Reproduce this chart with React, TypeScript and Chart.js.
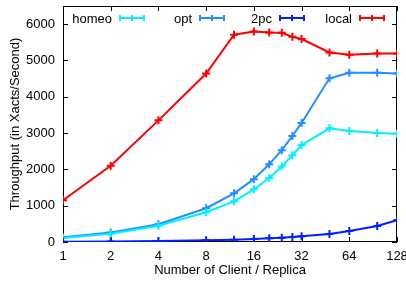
import React, { useEffect, useRef } from 'react';
import { Chart, registerables } from 'chart.js';

Chart.register(...registerables);

const clients = [1, 2, 4, 8, 12, 16, 20, 24, 28, 32, 48, 64, 96, 128];
const homeo = [110, 230, 450, 820, 1120, 1450, 1760, 2080, 2390, 2670, 3130, 3060, 3000, 2980];
const opt = [130, 260, 490, 930, 1340, 1730, 2140, 2530, 2920, 3280, 4510, 4660, 4660, 4640];
const twoPc = [10, 15, 25, 45, 60, 80, 100, 120, 140, 160, 220, 300, 440, 600];
const local = [1150, 2100, 3350, 4640, 5710, 5800, 5770, 5760, 5650, 5590, 5220, 5160, 5190, 5190];
const xTicks = [1, 2, 4, 8, 16, 32, 64, 128];
const yTicks = [0, 1000, 2000, 3000, 4000, 5000, 6000];
const seriesNames = ['homeo', 'opt', '2pc', 'local'];
const seriesColors = ['#00f0ff', '#2090ff', '#0020ff', '#ff0000'];

const FONT = '"Liberation Sans", Arial, Helvetica, sans-serif';

const framePlugin = {
  id: 'frame',
  beforeDatasetsDraw(chart: any) {
    const { ctx, chartArea: a, scales } = chart;
    ctx.save();
    ctx.strokeStyle = '#000';
    ctx.lineWidth = 1;
    ctx.strokeRect(a.left + 0.5, a.top + 0.5, a.right - a.left - 1, a.bottom - a.top - 1);
    ctx.beginPath();
    const L = 5;
    xTicks.forEach((v) => {
      const x = Math.round(scales.x.getPixelForValue(v)) + 0.5;
      ctx.moveTo(x, a.bottom);
      ctx.lineTo(x, a.bottom - L);
      ctx.moveTo(x, a.top);
      ctx.lineTo(x, a.top + L);
    });
    yTicks.forEach((v) => {
      const y = Math.round(scales.y.getPixelForValue(v)) + 0.5;
      ctx.moveTo(a.left, y);
      ctx.lineTo(a.left + L, y);
      ctx.moveTo(a.right, y);
      ctx.lineTo(a.right - L, y);
    });
    ctx.stroke();
    ctx.restore();
  },
  afterDatasetsDraw(chart: any) {
    const { ctx, chartArea: a } = chart;
    ctx.save();
    ctx.font = `13px ${FONT}`;
    ctx.textAlign = 'right';
    ctx.textBaseline = 'middle';
    const y = a.top + 12;
    seriesNames.forEach((name, i) => {
      const tx = a.left + 49 + i * 80;
      ctx.fillStyle = '#000';
      ctx.fillText(name, tx, y + 1);
      const x0 = tx + 8;
      const x1 = tx + 32;
      const xm = (x0 + x1) / 2;
      ctx.strokeStyle = seriesColors[i];
      ctx.lineWidth = 2;
      ctx.beginPath();
      ctx.moveTo(x0, y);
      ctx.lineTo(x1, y);
      ctx.moveTo(x0, y - 3);
      ctx.lineTo(x0, y + 3);
      ctx.moveTo(x1, y - 3);
      ctx.lineTo(x1, y + 3);
      ctx.moveTo(xm, y - 3);
      ctx.lineTo(xm, y + 3);
      ctx.stroke();
    });
    ctx.restore();
  },
};

export default function App() {
  const ref = useRef<HTMLCanvasElement>(null);
  useEffect(() => {
    if (!ref.current) return;
    const mk = (label: string, data: number[], color: string) => ({
      label,
      data: clients.map((c, i) => ({ x: c, y: data[i] })),
      borderColor: color,
      backgroundColor: color,
      borderWidth: 2,
      pointStyle: 'cross' as const,
      pointRadius: 4,
      pointBorderWidth: 2,
      tension: 0,
    });
    const chart = new Chart(ref.current, {
      type: 'line',
      data: {
        datasets: [
          mk('2pc', twoPc, seriesColors[2]),
          mk('homeo', homeo, seriesColors[0]),
          mk('opt', opt, seriesColors[1]),
          mk('local', local, seriesColors[3]),
        ],
      },
      options: {
        animation: false,
        responsive: false,
        devicePixelRatio: 1,
        layout: { padding: { top: 4, right: 9, left: 0, bottom: 0 } },
        plugins: { legend: { display: false }, tooltip: { enabled: false } },
        scales: {
          x: {
            type: 'logarithmic',
            min: 1,
            max: 128,
            grid: { display: false, drawTicks: false },
            border: { display: false },
            afterBuildTicks: (s: any) => {
              s.ticks = xTicks.map((v) => ({ value: v }));
            },
            afterFit: (s: any) => {
              s.height = 40;
              s.paddingLeft = 0;
              s.paddingRight = 0;
            },
            ticks: {
              color: '#000',
              font: { family: FONT, size: 13 },
              padding: 7,
              maxRotation: 0,
              autoSkip: false,
              callback: (v: any) => String(v),
            },
            title: {
              display: true,
              text: 'Number of Client / Replica',
              color: '#000',
              font: { family: FONT, size: 13 },
              padding: { top: 0, bottom: 4 },
            },
          },
          y: {
            type: 'linear',
            min: 0,
            max: 6500,
            grid: { display: false, drawTicks: false },
            border: { display: false },
            afterBuildTicks: (s: any) => {
              s.ticks = yTicks.map((v) => ({ value: v }));
            },
            afterFit: (s: any) => {
              s.width = 63;
              s.paddingTop = 0;
              s.paddingBottom = 0;
            },
            ticks: {
              color: '#000',
              font: { family: FONT, size: 13 },
              padding: 8,
              callback: (v: any) => String(v),
            },
            title: {
              display: true,
              text: 'Throughput (in Xacts/Second)',
              color: '#000',
              font: { family: FONT, size: 13 },
              padding: { top: 8, bottom: 0 },
            },
          },
        },
      },
      plugins: [framePlugin],
    });
    return () => chart.destroy();
  }, []);
  return (
    <div style={{ position: 'absolute', left: 0, top: 0, width: 406, height: 282, background: '#fff' }}>
      <canvas ref={ref} width={406} height={282} style={{ display: 'block' }} />
    </div>
  );
}
